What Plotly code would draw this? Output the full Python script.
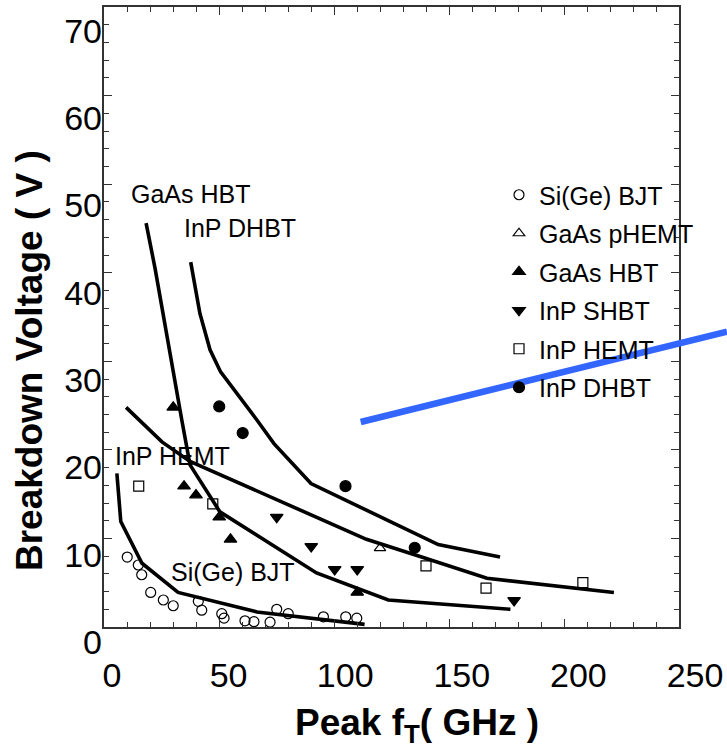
import plotly.graph_objects as go

# ---------------- data ----------------
x_ticks = [0, 50, 100, 150, 200, 250]
y_ticks = [0, 10, 20, 30, 40, 50, 60, 70]

sige_bjt_x = [10.1, 14.9, 16.4, 20.3, 25.8, 30.1, 41.0, 42.5, 51.2, 52.2, 61.3, 65.2, 72.2, 75.1, 80.1, 95.4, 105.1, 109.9]
sige_bjt_y = [7.9, 7.0, 5.9, 3.9, 3.05, 2.4, 2.9, 1.9, 1.5, 1.0, 0.7, 0.6, 0.55, 2.0, 1.5, 1.15, 1.15, 1.0]

gaas_phemt_x = [120.0]
gaas_phemt_y = [8.9]

gaas_hbt_x = [30.1, 34.8, 40.0, 50.1, 55.0, 110.1]
gaas_hbt_y = [24.8, 15.9, 14.9, 12.4, 9.9, 3.9]

inp_shbt_x = [75.1, 90.1, 100.3, 110.1, 178.3]
inp_shbt_y = [12.4, 9.1, 6.5, 6.5, 3.0]

inp_hemt_x = [15.1, 47.3, 140.0, 166.1, 208.2]
inp_hemt_y = [15.9, 13.9, 6.9, 4.4, 5.0]

inp_dhbt_x = [50.1, 60.3, 105.0, 135.1]
inp_dhbt_y = [24.9, 21.9, 15.9, 8.95]

# trend curves
sige_curve_x = [5.6, 7.3, 16.5, 32.2, 66.5, 113.3]
sige_curve_y = [17.35, 11.9, 7.2, 3.9, 1.7, 0.3]

gaas_hbt_curve_x = [18.3, 22.2, 33.8, 37.4, 50.4, 92.4, 123.6, 176.7]
gaas_hbt_curve_y = [45.6, 40.5, 23.4, 18.3, 13.0, 6.1, 3.05, 2.0]

inp_dhbt_curve_x = [37.7, 41.7, 46.1, 50.7, 66.4, 73.9, 90.0, 145.3, 172.2]
inp_dhbt_curve_y = [41.2, 35.4, 31.3, 28.8, 23.4, 20.7, 16.2, 9.3, 7.9]

inp_hemt_curve_x = [9.6, 25.2, 37.4, 65.2, 85.2, 114.1, 138.1, 166.5, 221.7]
inp_hemt_curve_y = [24.8, 20.9, 18.7, 15.5, 13.2, 9.9, 7.9, 5.5, 3.9]

curve_labels = ["GaAs HBT", "InP DHBT", "InP HEMT", "Si(Ge) BJT"]
curve_label_x = [37.4, 59.3, 29.6, 56.1]
curve_label_y = [48.9, 45.05, 19.3, 6.2]

# ---------------- figure ----------------
W, H = 727, 749
FONT = "Liberation Sans, Arial, sans-serif"
fig = go.Figure()

curves = [
    (sige_curve_x, sige_curve_y),
    (gaas_hbt_curve_x, gaas_hbt_curve_y),
    (inp_dhbt_curve_x, inp_dhbt_curve_y),
    (inp_hemt_curve_x, inp_hemt_curve_y),
]
for cx, cy in curves:
    fig.add_trace(go.Scatter(x=cx, y=cy, mode="lines", line=dict(color="black", width=3.6),
                             showlegend=False, hoverinfo="skip"))

series = [
    ("Si(Ge) BJT", sige_bjt_x, sige_bjt_y, "circle-open", 10),
    ("GaAs pHEMT", gaas_phemt_x, gaas_phemt_y, "triangle-up-open", 10),
    ("GaAs HBT", gaas_hbt_x, gaas_hbt_y, "triangle-up", 11),
    ("InP SHBT", inp_shbt_x, inp_shbt_y, "triangle-down", 11),
    ("InP HEMT", inp_hemt_x, inp_hemt_y, "square-open", 10),
    ("InP DHBT", inp_dhbt_x, inp_dhbt_y, "circle", 11),
]
for i, (name, sx, sy, sym, sz) in enumerate(series):
    fig.add_trace(go.Scatter(x=sx, y=sy, mode="markers", name=name, legendgroup=f"g{i}",
                             marker=dict(symbol=sym, size=sz, color="black",
                                         line=dict(color="black", width=1.2))))

# invisible trace for the tick-label axes
fig.add_trace(go.Scatter(x=[None], y=[None], xaxis="x2", yaxis="y2", showlegend=False,
                         hoverinfo="skip", mode="markers"))

for t, lx, ly in zip(curve_labels, curve_label_x, curve_label_y):
    fig.add_annotation(x=lx, y=ly, xref="x", yref="y", text=t, showarrow=False,
                       xanchor="center", yanchor="middle",
                       font=dict(family=FONT, size=25, color="black"))

# axis titles
fig.add_annotation(x=417 / W, y=1 - 725 / H, xref="paper", yref="paper",
                   text="<b>Peak f<sub>T</sub>( GHz )</b>", showarrow=False,
                   xanchor="center", yanchor="middle",
                   font=dict(family=FONT, size=37, color="black"))
fig.add_annotation(x=29 / W, y=1 - 361 / H, xref="paper", yref="paper",
                   text="<b>Breakdown Voltage ( V )</b>", showarrow=False, textangle=-90,
                   xanchor="center", yanchor="middle",
                   font=dict(family=FONT, size=37, color="black"))

# blue line
fig.add_shape(type="line", xref="paper", yref="paper",
              x0=360.7 / W, y0=1 - 422 / H, x1=1.0, y1=1 - 331.7 / H,
              line=dict(color="#3366FF", width=6.5), layer="above")

frame = dict(showline=True, linecolor="#333333", linewidth=1.5, mirror="allticks",
             ticks="inside", ticklen=8, tickwidth=1, tickcolor="#333333",
             showgrid=False, zeroline=False, showticklabels=False, automargin=False)

fig.update_layout(
    width=W, height=H,
    margin=dict(l=0, r=0, t=0, b=0, pad=0, autoexpand=False),
    paper_bgcolor="white", plot_bgcolor="rgba(0,0,0,0)",
    font=dict(family=FONT, color="black"),
    xaxis=dict(domain=[104 / W, 679 / W], range=[0, 250], tickvals=x_ticks, anchor="y",
               minor=dict(dtick=10, ticks="inside", ticklen=5, tickcolor="#333333"), **frame),
    yaxis=dict(domain=[1 - 627 / H, 1 - 7 / H], range=[0, 70], tickvals=y_ticks, anchor="x",
               minor=dict(dtick=2, ticks="inside", ticklen=5, tickcolor="#333333"), **frame),
    xaxis2=dict(domain=[112 / W, 695 / W], range=[0, 250], anchor="free", position=1 - 652 / H,
                tickvals=x_ticks, ticktext=[str(v) for v in x_ticks], ticks="", showline=False,
                showgrid=False, zeroline=False, automargin=False,
                tickfont=dict(family=FONT, size=34, color="black")),
    yaxis2=dict(domain=[1 - 642 / H, 1 - 31 / H], range=[0, 70], anchor="free", position=102 / W,
                side="left", tickvals=y_ticks, ticktext=[str(v) for v in y_ticks], ticks="",
                showline=False, showgrid=False, zeroline=False, automargin=False,
                tickfont=dict(family=FONT, size=34, color="black")),
    legend=dict(x=499 / W, y=1 - 172 / H, xanchor="left", yanchor="top",
                bgcolor="rgba(0,0,0,0)", traceorder="grouped", tracegroupgap=3,
                font=dict(family=FONT, size=25, color="black")),
    showlegend=True,
)

fig.write_html("out.html")
